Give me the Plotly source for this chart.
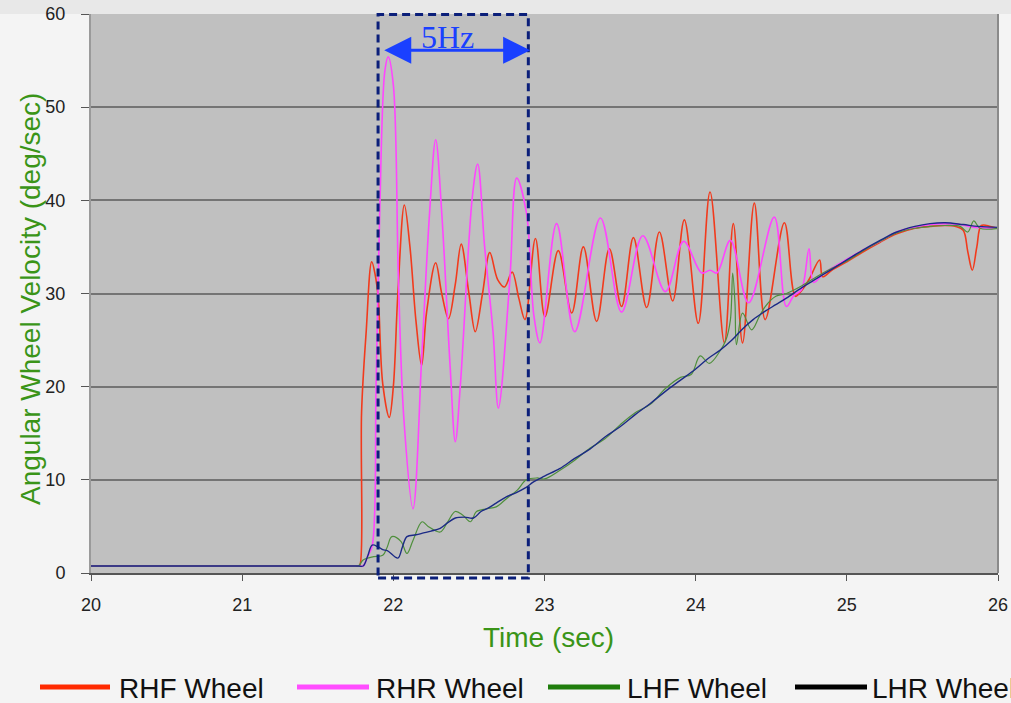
import plotly.graph_objects as go

# ---------------- data ----------------
rhf_t = [20.0, 20.5, 21.0, 21.5, 21.7, 21.75, 21.77, 21.78, 21.79, 21.82, 21.857, 21.88, 21.90, 21.93,
         21.973, 22.0, 22.03, 22.073, 22.11, 22.15, 22.187, 22.22, 22.28, 22.32, 22.365, 22.41, 22.449,
         22.5, 22.542, 22.59, 22.638, 22.69, 22.736, 22.786, 22.83, 22.871, 22.94, 23.003, 23.091,
         23.18, 23.257, 23.345, 23.429, 23.51, 23.588, 23.676, 23.76, 23.848, 23.925, 24.017, 24.095,
         24.19, 24.249, 24.31, 24.388, 24.46, 24.587, 24.66, 24.7, 24.75, 24.82, 24.84, 24.9, 25.0,
         25.1, 25.22, 25.33, 25.45, 25.55, 25.65, 25.72, 25.77, 25.80, 25.83, 25.86, 25.89, 25.95, 26.0]
rhf_v = [0.75, 0.75, 0.75, 0.75, 0.75, 0.75, 0.75, 0.9, 17.3, 25.8, 33.4, 32.0, 29.5, 20.3,
         16.7, 20.0, 30.0, 39.5, 35.0, 27.0, 22.3, 28.0, 33.3, 30.0, 27.3, 31.0, 35.3,
         30.0, 25.9, 30.0, 34.4, 31.5, 30.7, 32.3, 29.5, 27.2, 35.9, 27.5, 34.6,
         27.9, 35.0, 27.0, 34.8, 28.6, 36.0, 28.5, 36.6, 29.2, 37.9, 26.8, 40.9,
         24.7, 37.5, 24.7, 39.7, 27.2, 37.6, 29.7, 30.3, 31.5, 33.6, 31.8, 32.5, 33.4,
         34.4, 35.5, 36.4, 37.0, 37.2, 37.3, 37.2, 36.8, 34.5, 32.5, 35.0, 37.3, 37.2, 37.0]

rhr_t = [20.0, 20.5, 21.0, 21.5, 21.7, 21.77, 21.80, 21.83, 21.86, 21.886, 21.91, 21.944, 21.966,
         22.0, 22.034, 22.07, 22.13, 22.19, 22.24, 22.28, 22.32, 22.376, 22.41, 22.444, 22.524,
         22.558, 22.604, 22.66, 22.695, 22.77, 22.816, 22.88, 22.93, 22.97, 23.08, 23.2, 23.37, 23.51,
         23.65, 23.80, 23.92, 24.04, 24.095, 24.14, 24.23, 24.35, 24.52, 24.6, 24.65, 24.7, 24.75,
         24.78, 24.85, 24.95, 25.1, 25.22, 25.33, 25.45, 25.55, 25.65, 25.75, 25.85, 26.0]
rhr_v = [0.75, 0.75, 0.75, 0.75, 0.75, 0.75, 0.75, 1.8, 2.9, 20.3, 38.7, 53.9, 55.4,
         52.4, 31.3, 16.5, 6.9, 23.9, 38.7, 46.5, 38.7, 22.1, 14.1, 20.3, 40.6,
         43.9, 35.0, 25.8, 17.7, 31.3, 42.4, 38.7, 27.6, 24.7, 37.5, 25.9, 38.1, 28.0,
         36.2, 30.2, 35.6, 32.2, 32.5, 32.2, 35.7, 29.0, 38.2, 28.6, 29.8, 30.4, 34.8,
         31.2, 32.2, 33.2, 34.6, 35.6, 36.6, 37.1, 37.4, 37.5, 37.4, 37.1, 37.0]

lhf_t = [20.0, 20.5, 21.0, 21.5, 21.7, 21.75, 21.77, 21.80, 21.87, 21.93, 21.96, 21.99, 22.05, 22.09,
         22.13, 22.19, 22.23, 22.31, 22.36, 22.41, 22.46, 22.51, 22.55, 22.62, 22.68, 22.75, 22.82,
         22.88, 22.95, 23.0, 23.1, 23.2, 23.3, 23.4, 23.5, 23.6, 23.7, 23.8, 23.9, 23.97, 24.03, 24.09,
         24.16, 24.2, 24.23, 24.245, 24.26, 24.27, 24.31, 24.37, 24.42, 24.46, 24.53, 24.6, 24.7,
         24.8, 24.9, 25.0, 25.1, 25.22, 25.33, 25.45, 25.55, 25.65, 25.75, 25.8, 25.84, 25.88, 26.0]
lhf_v = [0.75, 0.75, 0.75, 0.75, 0.75, 0.75, 0.75, 1.4, 1.75, 1.9, 2.8, 3.9, 3.4, 2.1,
         3.5, 5.5, 5.0, 4.4, 5.5, 6.6, 6.2, 5.5, 6.6, 6.9, 7.1, 8.0, 8.9,
         10.0, 10.2, 10.1, 11.0, 12.1, 13.4, 14.4, 15.9, 17.2, 18.1, 19.8, 21.0, 21.3, 23.3, 22.5,
         23.8, 25.0, 27.2, 32.2, 29.0, 24.5, 27.9, 26.1, 27.5, 28.6, 29.7, 30.0, 30.8,
         31.8, 32.7, 33.5, 34.5, 35.6, 36.5, 37.0, 37.2, 37.3, 37.2, 36.6, 37.8, 37.0, 37.0]

lhr_t = [20.0, 20.5, 21.0, 21.5, 21.7, 21.77, 21.80, 21.83, 21.86, 21.90, 21.93, 21.96, 22.03, 22.06,
         22.09, 22.15, 22.2, 22.25, 22.31, 22.36, 22.41, 22.47, 22.53, 22.58, 22.62, 22.68, 22.75,
         22.81, 22.87, 22.93, 23.0, 23.1, 23.2, 23.3, 23.4, 23.5, 23.6, 23.7, 23.8, 23.9, 24.0, 24.08,
         24.16, 24.24, 24.31, 24.38, 24.46, 24.53, 24.6, 24.7, 24.78, 24.9, 25.0, 25.1, 25.22, 25.33,
         25.45, 25.55, 25.65, 25.77, 25.87, 26.0]
lhr_v = [0.75, 0.75, 0.75, 0.75, 0.75, 0.75, 0.75, 1.8, 3.0, 2.8, 2.5, 2.4, 1.6, 2.8,
         3.9, 4.1, 4.3, 4.5, 4.8, 5.4, 5.9, 6.0, 5.9, 6.6, 6.9, 7.5, 8.2,
         8.6, 9.1, 9.8, 10.4, 11.2, 12.3, 13.3, 14.6, 15.7, 17.0, 18.2, 19.5, 20.7, 21.9, 23.0,
         23.9, 25.0, 26.2, 27.2, 28.1, 28.8, 29.5, 30.6, 31.4, 32.6, 33.6, 34.6, 35.7, 36.6,
         37.2, 37.5, 37.6, 37.4, 37.2, 37.1]

series_names = ["RHF Wheel", "RHR Wheel", "LHF Wheel", "LHR Wheel"]
x_ticks = [20, 21, 22, 23, 24, 25, 26]
y_ticks = [0, 10, 20, 30, 40, 50, 60]
box_t = [21.899, 22.893]
arrow_t = [21.93, 22.905]
arrow_v = 56.1

# ---------------- styling ----------------
W, H = 1011, 703
L, R, T, B = 91, 13, 14, 130
PW, PH = W - L - R, H - T - B


def px(xp):
    return (xp - L) / PW


def py(yp):
    return (H - B - yp) / PH


line_colors = ["#f23a1c", "#ff45ff", "#4f8f3c", "#1b2a86"]
legend_colors = ["#ff2a00", "#ff4dff", "#1f7d0c", "#000000"]
title_green = "#3a9418"

fig = go.Figure()
for t, v, name, col, w in [
    (rhf_t, rhf_v, series_names[0], line_colors[0], 1.6),
    (rhr_t, rhr_v, series_names[1], line_colors[1], 1.6),
    (lhf_t, lhf_v, series_names[2], line_colors[2], 1.2),
    (lhr_t, lhr_v, series_names[3], line_colors[3], 1.4),
]:
    fig.add_trace(go.Scatter(x=t, y=v, name=name, mode="lines",
                             line=dict(color=col, width=w, shape="spline", smoothing=1.0),
                             showlegend=False))

shapes = []
annotations = []
# top light strip
shapes.append(dict(type="rect", xref="paper", yref="paper", x0=px(0), x1=px(W), y0=1, y1=py(0),
                   fillcolor="#e8e8e8", line=dict(width=0), layer="below"))
# right border of plot
shapes.append(dict(type="line", xref="paper", yref="paper", x0=1, x1=1, y0=0, y1=1,
                   line=dict(color="#8a8a8a", width=2)))
# dashed box
shapes.append(dict(type="rect", xref="x", yref="paper", x0=box_t[0], x1=box_t[1],
                   y0=py(578), y1=py(14.5), line=dict(color="#0b1f7a", width=3, dash="8px,5px")))
# arrow
annotations.append(dict(x=arrow_t[1], y=arrow_v, ax=arrow_t[0], ay=arrow_v, xref="x", yref="y",
                        axref="x", ayref="y", showarrow=True, arrowhead=2, startarrowhead=2,
                        arrowside="end+start", arrowsize=1.8, startarrowsize=1.8, arrowwidth=3,
                        arrowcolor="#1a40ff", text=""))
annotations.append(dict(x=px(447), y=py(37), xref="paper", yref="paper", text="5Hz", showarrow=False,
                        xanchor="center", yanchor="middle",
                        font=dict(family="Liberation Serif", size=32, color="#1a40ff")))
# axis titles
annotations.append(dict(x=px(30), y=py(299), xref="paper", yref="paper", textangle=-90,
                        xanchor="center", yanchor="middle",
                        text="Angular Wheel Velocity (deg/sec)", showarrow=False,
                        font=dict(family="Liberation Sans", size=28, color=title_green)))
annotations.append(dict(x=px(548), y=py(637), xref="paper", yref="paper",
                        xanchor="center", yanchor="middle",
                        text="Time (sec)", showarrow=False,
                        font=dict(family="Liberation Sans", size=28, color=title_green)))
# custom legend
leg_lines = [(40, 110), (297, 369), (548, 620), (795, 867)]
leg_text_x = [117, 374, 625, 870]
for (a, b), tx, name, col in zip(leg_lines, leg_text_x, series_names, legend_colors):
    shapes.append(dict(type="line", xref="paper", yref="paper", x0=px(a), x1=px(b),
                       y0=py(687), y1=py(687), line=dict(color=col, width=5)))
    annotations.append(dict(x=px(tx), y=py(688), xref="paper", yref="paper", xanchor="left",
                            yanchor="middle", text=name, showarrow=False,
                            font=dict(family="Liberation Sans", size=28, color="#111111")))

fig.update_layout(
    width=W, height=H, margin=dict(l=L, r=R, t=T, b=B, pad=0, autoexpand=False),
    paper_bgcolor="#f4f4f4", plot_bgcolor="#c0c0c0",
    shapes=shapes, annotations=annotations, showlegend=False,
    font=dict(family="Liberation Sans", color="#222222"),
)
fig.update_xaxes(range=[20, 26], tickvals=x_ticks, showgrid=False, zeroline=False, automargin=False,
                 showline=True, linecolor="#555555", linewidth=2, ticks="outside", ticklen=6,
                 tickcolor="#555555", tickfont=dict(size=18, color="#222222"), ticklabelstandoff=8)
fig.update_yaxes(range=[0, 60], tickvals=y_ticks, showgrid=True, gridcolor="#747474", gridwidth=1.5,
                 automargin=False,
                 zeroline=False, showline=True, linecolor="#9a9a9a", linewidth=2, ticks="outside",
                 ticklen=8, tickcolor="#555555", tickfont=dict(size=18, color="#222222"),
                 ticklabelstandoff=12)

fig.write_html("out.html")
